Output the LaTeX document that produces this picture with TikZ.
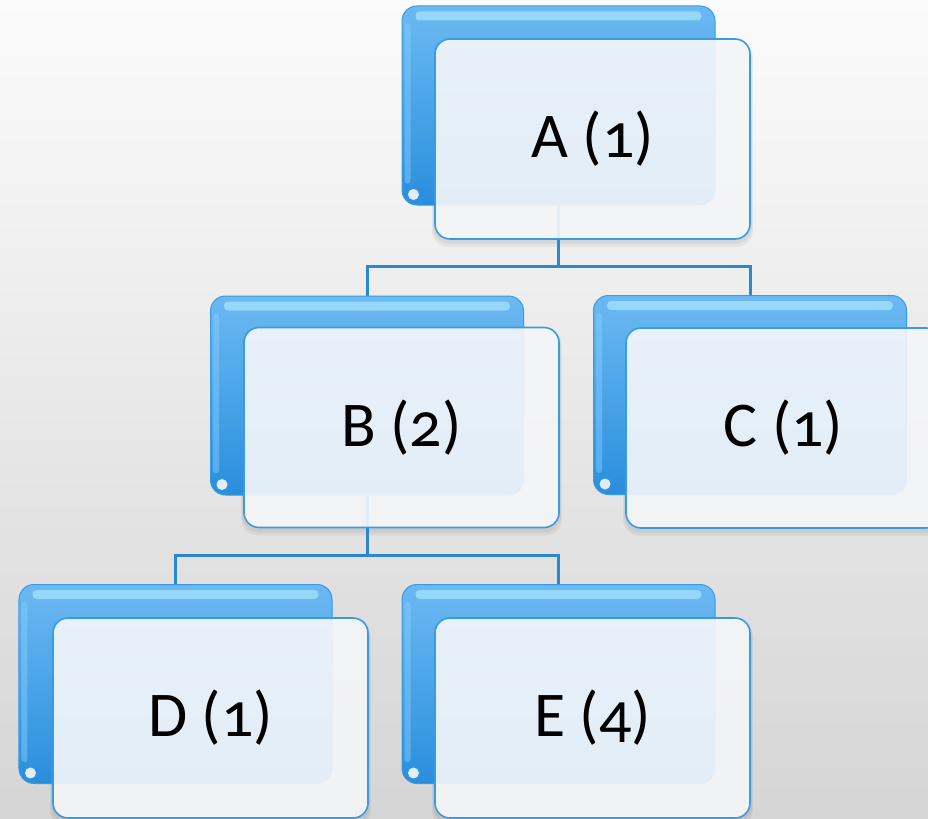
\documentclass[tikz,border=0pt]{standalone}
\usepackage{fontspec}
\setmainfont{Carlito}[Numbers=OldStyle]
\usetikzlibrary{calc}
\definecolor{bgtop}{HTML}{FBFBFB}
\definecolor{bgbot}{HTML}{D5D5D5}
\definecolor{blueTop}{HTML}{6CB9F2}
\definecolor{blueBot}{HTML}{2A8EDD}
\definecolor{blueEdge}{HTML}{3A9AE2}
\definecolor{blueLeft}{HTML}{86D0FF}
\definecolor{frontFill}{HTML}{F7F8FA}
\definecolor{lineBlue}{HTML}{2B88CF}
\definecolor{gloss}{HTML}{B4EEFF}
\pgfdeclarelayer{bglayer}
\pgfdeclarelayer{connlayer}
\pgfsetlayers{bglayer,connlayer,main}
\tikzset{
  backbox/.style={rounded corners=15bp, draw=blueEdge, line width=1bp,
    top color=blueTop, bottom color=blueBot,
    minimum width=313bp, minimum height=199bp, inner sep=0pt},
  frontbox/.style={rounded corners=15bp, draw=blueEdge, line width=1.6bp,
    fill=frontFill, fill opacity=0.9, text opacity=1, draw opacity=1,
    minimum width=315bp, minimum height=200bp, inner sep=0pt,
    font=\fontsize{64}{70}\selectfont},
  conn/.style={draw=lineBlue, line width=3bp},
  glossbar/.style={fill=gloss, opacity=0.6, rounded corners=4bp},
  leftgloss/.style={fill=blueLeft, opacity=0.45, rounded corners=3bp},
  spot/.style={fill=white, opacity=0.85},
  softshadow/.style={fill=black, opacity=0.05, rounded corners=16bp},
}
\begin{document}
\begin{tikzpicture}[x=1bp,y=-1bp]
\useasboundingbox (0,0) rectangle (928,819);
\begin{pgfonlayer}{bglayer}
  \shade[top color=bgtop, bottom color=bgbot] (0,0) rectangle (928,819);
\end{pgfonlayer}

% back boxes
\node[backbox] (Ab) at (558.5,105.5) {};
\node[backbox] (Bb) at (367,395.5) {};
\node[backbox] (Cb) at (750,395) {};
\node[backbox] (Db) at (175.5,684) {};
\node[backbox] (Eb) at (558.5,684) {};

\foreach \n in {Ab,Bb,Cb,Db,Eb}{
  \fill[glossbar] ($(\n.north west)+(14,6)$) rectangle ($(\n.north east)+(-14,15)$);
  \fill[leftgloss] ($(\n.north west)+(3,18)$) rectangle ($(\n.south west)+(9,-22)$);
  \fill[spot] ($(\n.south west)+(12,-11)$) circle (5.5bp);
}

% front boxes
\node[frontbox] (A) at (592.5,139) {A (1)};
\node[frontbox] (B) at (401.5,427.5) {B (2)};
\node[frontbox] (C) at (783.5,428) {C (1)};
\node[frontbox] (D) at (210.5,718) {D (1)};
\node[frontbox] (E) at (592.5,718) {E (4)};

\begin{pgfonlayer}{connlayer}
  % soft shadows under front boxes
  \foreach \n in {A,B,C,D,E}{
    \fill[softshadow] ($(\n.north west)+(-1,2)$) rectangle ($(\n.south east)+(1,4)$);
    \fill[softshadow] ($(\n.north west)+(-2,3)$) rectangle ($(\n.south east)+(2,7)$);
  }
  % connectors
  \coordinate (jA) at ($(Ab.south)+(0,61)$);
  \coordinate (jB) at ($(Bb.south)+(0,60)$);
  \draw[conn] (Ab.south) -- (jA);
  \draw[conn] (Bb.north) |- (jA) -| (Cb.north);
  \draw[conn] (Bb.south) -- (jB);
  \draw[conn] (Db.north) |- (jB) -| (Eb.north);
\end{pgfonlayer}
\end{tikzpicture}
\end{document}
